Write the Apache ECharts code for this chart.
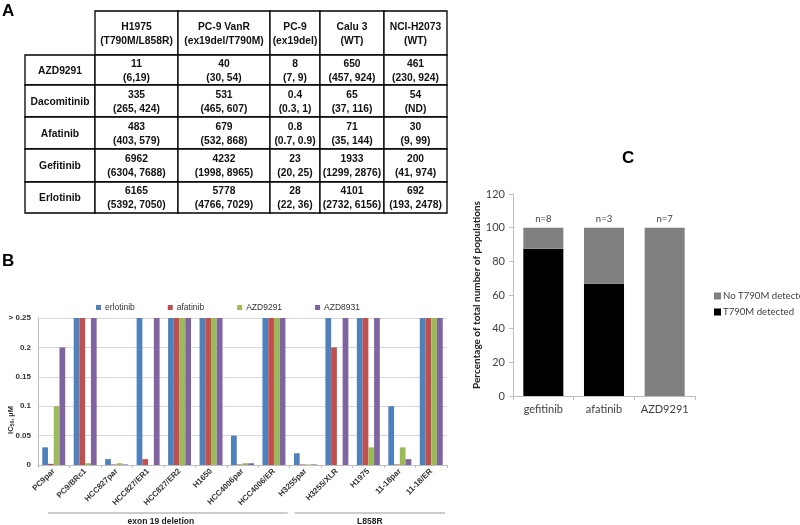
<!DOCTYPE html>
<html><head><meta charset="utf-8">
<script src="https://cdn.jsdelivr.net/npm/echarts@6/dist/echarts.min.js"></script>
<style>html,body{margin:0;padding:0;background:#fff}#c{width:800px;height:525px}</style>
</head><body><div id="c"></div>
<script>
// ---------- Panel A: table data ----------
const tableCols = ["H1975", "PC-9 VanR", "PC-9", "Calu 3", "NCI-H2073"];
const tableColSub = ["(T790M/L858R)", "(ex19del/T790M)", "(ex19del)", "(WT)", "(WT)"];
const tableRows = ["AZD9291", "Dacomitinib", "Afatinib", "Gefitinib", "Erlotinib"];
const tableIC50 = [
  ["11", "40", "8", "650", "461"],
  ["335", "531", "0.4", "65", "54"],
  ["483", "679", "0.8", "71", "30"],
  ["6962", "4232", "23", "1933", "200"],
  ["6165", "5778", "28", "4101", "692"]
];
const tableCI = [
  ["(6,19)", "(30, 54)", "(7, 9)", "(457, 924)", "(230, 924)"],
  ["(265, 424)", "(465, 607)", "(0.3, 1)", "(37, 116)", "(ND)"],
  ["(403, 579)", "(532, 868)", "(0.7, 0.9)", "(35, 144)", "(9, 99)"],
  ["(6304, 7688)", "(1998, 8965)", "(20, 25)", "(1299, 2876)", "(41, 974)"],
  ["(5392, 7050)", "(4766, 7029)", "(22, 36)", "(2732, 6156)", "(193, 2478)"]
];

// ---------- Panel B: bar chart data ----------
const cellLines = ["PC9par", "PC9/BRc1", "HCC827par", "HCC827/ER1", "HCC827/ER2", "H1650", "HCC4006par", "HCC4006/ER", "H3255par", "H3255/XLR", "H1975", "11-18par", "11-18/ER"];
const erlotinib = [0.03, 0.25, 0.01, 0.25, 0.25, 0.25, 0.05, 0.25, 0.02, 0.25, 0.25, 0.1, 0.25];
const afatinib  = [0.002, 0.25, 0.001, 0.01, 0.25, 0.25, 0.001, 0.25, 0.001, 0.2, 0.25, 0.001, 0.25];
const azd9291   = [0.1, 0.003, 0.003, 0, 0.25, 0.25, 0.003, 0.25, 0.001, 0, 0.03, 0.03, 0.25];
const azd8931   = [0.2, 0.25, 0.001, 0.25, 0.25, 0.25, 0.003, 0.25, 0.001, 0.25, 0.25, 0.01, 0.25];
const yTickValuesB = [0, 0.05, 0.1, 0.15, 0.2, 0.25];
const yTickLabelsB = ["0", "0.05", "0.1", "0.15", "0.2", "> 0.25"];
const groups = [
  { name: "exon 19 deletion", from: 0, to: 7 },
  { name: "L858R", from: 8, to: 12 }
];

// ---------- Panel C: stacked bar data ----------
const drugsC = ["gefitinib", "afatinib", "AZD9291"];
const t790mDetected = [87.5, 66.7, 0];
const noT790m = [12.5, 33.3, 100];
const nLabels = ["n=8", "n=3", "n=7"];

const colorsB = ["#4F81BD", "#C0504D", "#9BBB59", "#8064A2"];
const FB = "Liberation Sans, Arial, sans-serif";
const FC = "Lato, Open Sans, sans-serif";

const chart = echarts.init(document.getElementById('c'), null, { renderer: 'canvas' });

const mkBar = (name, data, color) => ({
  name, type: 'bar', xAxisIndex: 0, yAxisIndex: 0, data,
  itemStyle: { color }, barGap: '0%', barCategoryGap: '27%', animation: false
});

const option = {
  animation: false,
  backgroundColor: '#fff',
  grid: [
    { left: 38, right: 353, top: 318, bottom: 60 },
    { left: 513, right: 105, top: 194, bottom: 129 }
  ],
  legend: [
    {
      data: ["erlotinib", "afatinib", "AZD9291", "AZD8931"],
      left: 91, top: 298, itemWidth: 5, itemHeight: 5, itemGap: 33,
      icon: 'rect',
      textStyle: { fontSize: 8.5, fontFamily: FB, color: '#333', padding: [0, 0, 0, -1] }
    },
    {
      data: ["No T790M detected", "T790M detected"],
      orient: 'vertical', left: 709, top: 286, itemWidth: 7, itemHeight: 7, itemGap: 6,
      icon: 'rect',
      textStyle: { fontSize: 9.6, fontFamily: FC, color: '#404040', padding: [0, 0, 0, -3] }
    }
  ],
  xAxis: [
    {
      type: 'category', gridIndex: 0, data: cellLines,
      axisLine: { lineStyle: { color: '#bfbfbf' } },
      axisTick: { show: true, length: 3, lineStyle: { color: '#bfbfbf' } },
      axisLabel: { interval: 0, rotate: 45, fontSize: 8, fontWeight: 'bold', fontFamily: FB, color: '#333', margin: 5 }
    },
    {
      type: 'category', gridIndex: 1, data: drugsC,
      axisLine: { lineStyle: { color: '#bfbfbf' } },
      axisTick: { show: true, length: 4, lineStyle: { color: '#bfbfbf' } },
      axisLabel: { interval: 0, fontSize: 11, fontFamily: FC, color: '#404040', margin: 8 }
    }
  ],
  yAxis: [
    {
      type: 'value', gridIndex: 0, min: 0, max: 0.25, interval: 0.05,
      axisLine: { show: true, lineStyle: { color: '#bfbfbf' } },
      axisTick: { show: false },
      splitLine: { lineStyle: { color: '#d9d9d9' } },
      axisLabel: {
        fontSize: 8, fontWeight: 'bold', fontFamily: FB, color: '#333', margin: 7,
        formatter: v => { const i = yTickValuesB.findIndex(t => Math.abs(t - v) < 1e-9); return i >= 0 ? yTickLabelsB[i] : ''; }
      }
    },
    {
      type: 'value', gridIndex: 1, min: 0, max: 120, interval: 20,
      axisLine: { show: true, lineStyle: { color: '#bfbfbf' } },
      axisTick: { show: true, length: 4, lineStyle: { color: '#bfbfbf' } },
      splitLine: { show: false },
      axisLabel: { fontSize: 11, fontFamily: FC, color: '#404040', margin: 8 },
      name: 'Percentage of total number of populations',
      nameLocation: 'middle', nameGap: 28,
      nameTextStyle: { fontSize: 10, fontWeight: 'bold', fontFamily: FC, color: '#222' }
    }
  ],
  series: [
    mkBar("erlotinib", erlotinib, colorsB[0]),
    mkBar("afatinib", afatinib, colorsB[1]),
    mkBar("AZD9291", azd9291, colorsB[2]),
    mkBar("AZD8931", azd8931, colorsB[3]),
    {
      name: "T790M detected", type: 'bar', xAxisIndex: 1, yAxisIndex: 1, stack: 'c',
      data: t790mDetected, itemStyle: { color: '#000' }, barCategoryGap: '34%'
    },
    {
      name: "No T790M detected", type: 'bar', xAxisIndex: 1, yAxisIndex: 1, stack: 'c',
      data: noT790m, itemStyle: { color: '#808080' }, barCategoryGap: '34%',
      label: {
        show: true, position: 'top', distance: 4,
        formatter: p => nLabels[p.dataIndex],
        fontSize: 9.5, fontFamily: FC, color: '#404040'
      }
    }
  ]
};
chart.setOption(option);

// ---------- graphics: panel letters, table, annotations ----------
const g = [];
const letter = (t, x, y) => g.push({ type: 'text', x, y, style: { text: t, font: 'bold 17px ' + FB, fill: '#000', align: 'left', verticalAlign: 'top' } });
letter('A', 2, 3);
letter('B', 2, 253);
letter('C', 622, 150);

// table layout
const colX = [95, 178, 270, 320, 384, 447];
const labelX0 = 25;
const rowY = [11, 55, 85, 117, 149, 182, 213];
const cellFont = 'bold 10.3px ' + FB;
const border = { fill: '#fff', stroke: '#000', lineWidth: 1.3 };
const cellText = (text, cx, cy) => g.push({ type: 'text', x: cx, y: cy, style: { text, font: cellFont, fill: '#111', align: 'center', verticalAlign: 'middle', lineHeight: 14 } });
tableCols.forEach((c, j) => {
  g.push({ type: 'rect', shape: { x: colX[j], y: rowY[0], width: colX[j + 1] - colX[j], height: rowY[1] - rowY[0] }, style: border });
  cellText(c + '\n' + tableColSub[j], (colX[j] + colX[j + 1]) / 2, (rowY[0] + rowY[1]) / 2 + 1);
});
tableRows.forEach((r, i) => {
  const y0 = rowY[i + 1], y1 = rowY[i + 2];
  g.push({ type: 'rect', shape: { x: labelX0, y: y0, width: colX[0] - labelX0, height: y1 - y0 }, style: border });
  cellText(r, (labelX0 + colX[0]) / 2, (y0 + y1) / 2 + 1);
  tableCols.forEach((c, j) => {
    g.push({ type: 'rect', shape: { x: colX[j], y: y0, width: colX[j + 1] - colX[j], height: y1 - y0 }, style: border });
    cellText(tableIC50[i][j] + '\n' + tableCI[i][j], (colX[j] + colX[j + 1]) / 2, (y0 + y1) / 2 + 1);
  });
});

// B y-axis title
g.push({
  type: 'text', x: 11, y: 420, rotation: Math.PI / 2,
  style: {
    text: '{a|IC}{s|50}{a|, µM}', align: 'center', verticalAlign: 'middle',
    rich: {
      a: { fontSize: 7.5, fontWeight: 'bold', fontFamily: FB, fill: '#333' },
      s: { fontSize: 5, fontWeight: 'bold', fontFamily: FB, fill: '#333', padding: [3, 0, 0, 0] }
    }
  }
});

// group brackets under B's axis, positioned from the category scale
const c0 = chart.convertToPixel({ xAxisIndex: 0 }, 0);
const c1 = chart.convertToPixel({ xAxisIndex: 0 }, 1);
const band = c1 - c0;
const yPix0 = chart.convertToPixel({ yAxisIndex: 0 }, 0);
const lineY = yPix0 + 48;
groups.forEach((gr, k) => {
  const xa = chart.convertToPixel({ xAxisIndex: 0 }, gr.from) - band / 2 + (k === 0 ? 10 : 5);
  const xb = chart.convertToPixel({ xAxisIndex: 0 }, gr.to) + band / 2 - 2;
  g.push({ type: 'line', shape: { x1: xa, y1: lineY, x2: xb, y2: lineY }, style: { stroke: '#999', lineWidth: 1 } });
  g.push({ type: 'text', x: (xa + xb) / 2 - (k === 0 ? 7 : 0), y: lineY + 9, style: { text: gr.name, font: 'bold 8.5px ' + FB, fill: '#222', align: 'center', verticalAlign: 'middle' } });
});

chart.setOption({ graphic: g });
</script></body></html>
